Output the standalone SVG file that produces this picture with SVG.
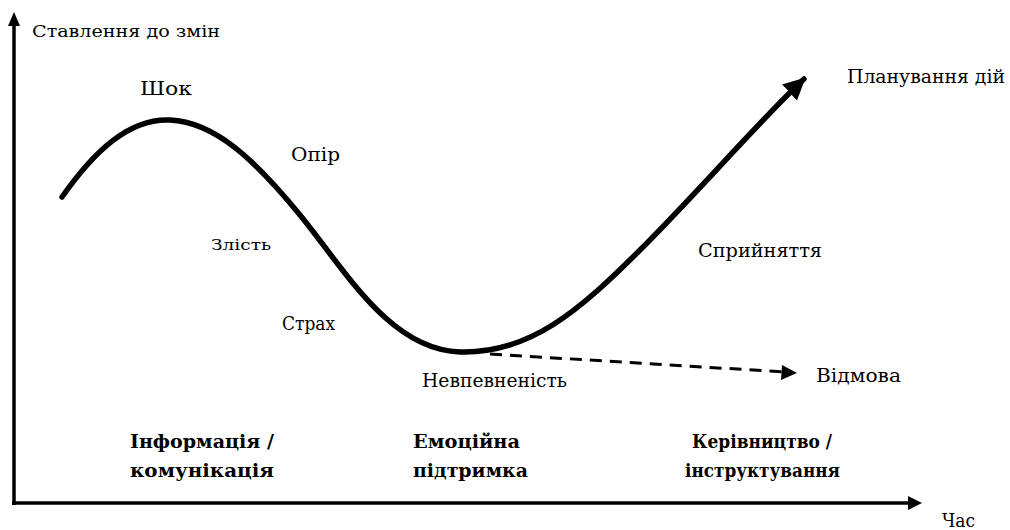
<svg xmlns="http://www.w3.org/2000/svg" width="1010" height="530" viewBox="0 0 1010 530">
<defs>
<marker id="ah" viewBox="0 0 10 10" refX="9" refY="5" markerWidth="4" markerHeight="4" orient="auto" markerUnits="strokeWidth"><path d="M0,0 L10,5 L0,10 z" fill="#000"/></marker>
</defs>
<rect width="1010" height="530" fill="#fff"/>
<g id="connectors" fill="none" stroke="#000">
<path stroke-width="3.5" d="M14,505 L14,22"/>
<path d="M8,26 L14,12 L20,26 z" fill="#000" stroke="none"/>
<path stroke-width="3.5" d="M12,503 L912,503"/>
<path d="M908,496 L922,503 L908,510 z" fill="#000" stroke="none"/>
<path d="M62,197 C95,150 130,118 170,120 C215,122 255,160 300,215 C345,270 390,350 460,352 C530,354 580,310 640,250 C700,190 760,120 804,79" stroke-width="5.5" stroke-linecap="round" marker-end="url(#ah)"/>
<path d="M490,354 L785,372" stroke-width="3" stroke-dasharray="12,8"/>
<path d="M782,365 L797,373 L781,380 z" fill="#000" stroke="none"/>
</g>
<g font-family="'DejaVu Serif', serif" fill="#000" font-size="18">
<g id="axis-y-label"><text font-size="16" x="32" y="37" textLength="188" lengthAdjust="spacingAndGlyphs">Ставлення до змін</text></g>
<g id="axis-x-label"><text x="942" y="527" textLength="33" lengthAdjust="spacingAndGlyphs">Час</text></g>
<g id="shock"><text x="140" y="95" textLength="52" lengthAdjust="spacingAndGlyphs">Шок</text></g>
<g id="resistance"><text x="291" y="161" textLength="49" lengthAdjust="spacingAndGlyphs">Опір</text></g>
<g id="anger"><text font-size="15" x="211" y="250" textLength="60" lengthAdjust="spacingAndGlyphs">Злість</text></g>
<g id="fear"><text x="282" y="330" textLength="53" lengthAdjust="spacingAndGlyphs">Страх</text></g>
<g id="uncertainty"><text x="422" y="387" textLength="145" lengthAdjust="spacingAndGlyphs">Невпевненість</text></g>
<g id="rejection"><text x="816" y="382" textLength="85" lengthAdjust="spacingAndGlyphs">Відмова</text></g>
<g id="acceptance"><text x="698" y="257" textLength="124" lengthAdjust="spacingAndGlyphs">Сприйняття</text></g>
<g id="planning"><text x="847" y="83" textLength="158" lengthAdjust="spacingAndGlyphs">Планування дій</text></g>
<g id="info" font-weight="bold"><text x="130" y="448" textLength="144" lengthAdjust="spacingAndGlyphs">Інформація /</text><text x="130" y="477" textLength="144" lengthAdjust="spacingAndGlyphs">комунікація</text></g>
<g id="emotional" font-weight="bold"><text x="413" y="448" textLength="107" lengthAdjust="spacingAndGlyphs">Емоційна</text><text x="413" y="477" textLength="115" lengthAdjust="spacingAndGlyphs">підтримка</text></g>
<g id="guidance" font-weight="bold"><text x="692" y="448" textLength="140" lengthAdjust="spacingAndGlyphs">Керівництво /</text><text x="685" y="477" textLength="155" lengthAdjust="spacingAndGlyphs">інструктування</text></g>
</g>
</svg>
